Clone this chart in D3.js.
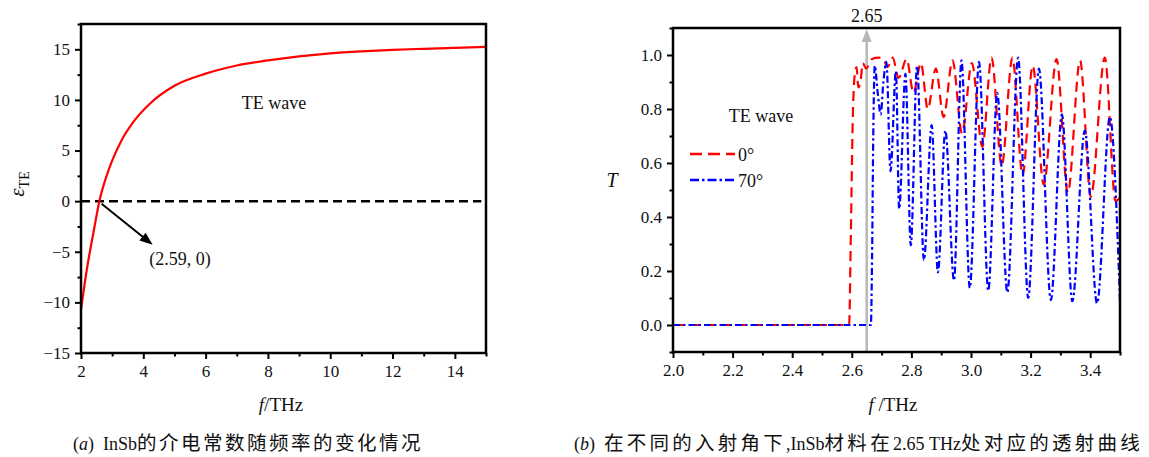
<!DOCTYPE html>
<html>
<head>
<meta charset="utf-8">
<script src="https://cdn.jsdelivr.net/npm/d3@7"></script>
<style>
  body { margin: 0; background: #fff; }
  svg text { font-family: "Liberation Serif", "Times New Roman", serif; fill: #111; }
  svg text.cap { font-family: "Liberation Serif", "Noto Sans CJK SC", serif; }
  svg tspan.cjk { font-family: "Noto Sans CJK SC", sans-serif; font-size: 19.5px; }
</style>
</head>
<body>
<div id="wrapper"></div>
<script>
// ---- panel (a): permittivity of InSb ----
const epsFreq = [2, 2.2, 2.4, 2.59, 2.8, 3.0, 3.3, 3.7, 4.2, 5, 6, 7, 8, 9, 10, 11, 12, 13, 14, 15];
const epsValue = [-10.7, -6.5, -3.1, 0, 2.3, 4.0, 6.0, 7.9, 9.6, 11.4, 12.6, 13.4, 13.9, 14.3, 14.6, 14.8, 14.95, 15.05, 15.15, 15.25];
const aXTicks = [2, 4, 6, 8, 10, 12, 14];
const aXMinor = [3, 5, 7, 9, 11, 13, 15];
const aYTicks = [-15, -10, -5, 0, 5, 10, 15];
const aYMinor = [-12.5, -7.5, -2.5, 2.5, 7.5, 12.5, 17.5];

// ---- panel (b): transmission, 0 deg and 70 deg ----
const t0Freq = [2.0, 2.591, 2.597, 2.603, 2.610, 2.616, 2.622, 2.629, 2.637, 2.648, 2.668, 2.690, 2.706, 2.720, 2.737, 2.757, 2.784, 2.807, 2.832, 2.855, 2.882, 2.908, 2.938, 2.970, 3.003, 3.038, 3.069, 3.103, 3.139, 3.173, 3.207, 3.244, 3.287, 3.325, 3.366, 3.402, 3.449, 3.485, 3.5];
const t0Value = [0, 0, 0.35, 0.75, 0.93, 0.955, 0.88, 0.90, 0.97, 0.95, 0.985, 0.99, 0.985, 0.955, 0.99, 0.915, 0.985, 0.86, 0.97, 0.80, 0.95, 0.77, 0.98, 0.71, 0.97, 0.66, 0.99, 0.59, 0.99, 0.555, 0.96, 0.52, 0.985, 0.49, 0.98, 0.475, 0.99, 0.46, 0.47];
const t70Freq = [2.0, 2.664, 2.668, 2.672, 2.677, 2.687, 2.697, 2.706, 2.716, 2.730, 2.748, 2.759, 2.780, 2.798, 2.819, 2.842, 2.868, 2.889, 2.914, 2.943, 2.968, 2.996, 3.027, 3.058, 3.088, 3.122, 3.158, 3.192, 3.228, 3.268, 3.305, 3.340, 3.382, 3.423, 3.466, 3.5];
const t70Value = [0, 0, 0.25, 0.7, 0.96, 0.86, 0.78, 0.9, 0.975, 0.57, 0.94, 0.43, 0.93, 0.295, 0.96, 0.24, 0.74, 0.195, 0.72, 0.165, 0.98, 0.137, 0.975, 0.127, 0.86, 0.12, 0.99, 0.10, 0.95, 0.092, 0.78, 0.088, 0.72, 0.08, 0.77, 0.085];
const bXTicks = [2.0, 2.2, 2.4, 2.6, 2.8, 3.0, 3.2, 3.4];
const bXMinor = [2.1, 2.3, 2.5, 2.7, 2.9, 3.1, 3.3, 3.5];
const bYTicks = [0, 0.2, 0.4, 0.6, 0.8, 1.0];
const bYMinor = [-0.1, 0.1, 0.3, 0.5, 0.7, 0.9, 1.1];
const markFreq = 2.65;
const zeroCross = [2.59, 0];

const serif = '"Liberation Serif", "Times New Roman", serif';

const svg = d3.select("#wrapper").append("svg")
    .attr("width", 1149)
    .attr("height", 457);

function drawFrame(x, y, xTicks, xMinor, yTicks, yMinor, xFmt, yFmt) {
    const g = svg.append("g");
    const [x0, x1] = x.range();
    const [y0, y1] = y.range();

    g.append("g")
        .attr("transform", `translate(0,${y0})`)
        .call(d3.axisBottom(x).tickValues(xTicks).tickSize(6).tickPadding(6).tickFormat(xFmt));
    g.append("g")
        .attr("transform", `translate(0,${y0})`)
        .call(d3.axisBottom(x).tickValues(xMinor).tickSize(3.5).tickFormat(""));
    g.append("g")
        .attr("transform", `translate(${x0},0)`)
        .call(d3.axisLeft(y).tickValues(yTicks).tickSize(6).tickPadding(5).tickFormat(yFmt));
    g.append("g")
        .attr("transform", `translate(${x0},0)`)
        .call(d3.axisLeft(y).tickValues(yMinor).tickSize(3.5).tickFormat(""));

    g.selectAll("g").attr("font-family", serif);
    g.selectAll(".domain").remove();
    g.selectAll(".tick line").attr("stroke", "#000").attr("stroke-width", 2);
    g.selectAll(".tick text")
        .style("font-family", serif)
        .style("font-size", "17px")
        .attr("fill", "#111");

    g.append("rect")
        .attr("x", x0).attr("y", y1)
        .attr("width", x1 - x0).attr("height", y0 - y1)
        .attr("fill", "none")
        .attr("stroke", "#000")
        .attr("stroke-width", 2.5);
    return g;
}

// caption: latin parts in serif, CJK runs spaced out to the measured width
function caption(x, width, letter, rest) {
    const t = svg.append("text")
        .attr("class", "cap")
        .attr("x", x).attr("y", 450)
        .style("font-size", "18px");
    t.append("tspan").text("(");
    t.append("tspan").style("font-style", "italic").text(letter);
    t.append("tspan").text(")\u2002");
    const parts = rest.split(/([\u4e00-\u9fff]+)/).filter(s => s.length);
    parts.forEach(s => {
        const sp = t.append("tspan").text(s);
        if (/[\u4e00-\u9fff]/.test(s)) sp.classed("cjk", true);
    });
    const natural = t.node().getComputedTextLength();
    const cjkCount = t.selectAll(".cjk").nodes().reduce((a, n) => a + n.textContent.length, 0);
    const extra = Math.max(0, (width - natural) / cjkCount);
    t.selectAll(".cjk").style("letter-spacing", extra + "px");
    return t;
}

const minus = d => d3.format("d")(d).replace("-", "\u2212");

// ================= panel (a) =================
const xA = d3.scaleLinear().domain([2, 15]).range([81, 486]);
const yA = d3.scaleLinear().domain([-15, 17.5]).range([353, 24]);

const plotA = svg.append("g");
plotA.append("line")
    .attr("x1", xA(2)).attr("x2", xA(14.85))
    .attr("y1", yA(0)).attr("y2", yA(0))
    .attr("stroke", "#000")
    .attr("stroke-width", 2.5)
    .attr("stroke-dasharray", "9,5");

const epsLine = d3.line()
    .x((d, i) => xA(epsFreq[i]))
    .y(d => yA(d))
    .curve(d3.curveMonotoneX);
plotA.append("path")
    .attr("d", epsLine(epsValue))
    .attr("fill", "none")
    .attr("stroke", "#ff0000")
    .attr("stroke-width", 2.2);

drawFrame(xA, yA, aXTicks, aXMinor, aYTicks, aYMinor, d3.format("d"), minus);

// annotation arrow to the zero crossing
const arrStart = [xA(zeroCross[0] + 0.07), yA(-0.25)];
const arrEnd = [xA(4.3), yA(-4.3)];
const ang = Math.atan2(arrEnd[1] - arrStart[1], arrEnd[0] - arrStart[0]);
const headL = 13, headW = 5;
plotA.append("line")
    .attr("x1", arrStart[0]).attr("y1", arrStart[1])
    .attr("x2", arrEnd[0] - Math.cos(ang) * headL * 0.8)
    .attr("y2", arrEnd[1] - Math.sin(ang) * headL * 0.8)
    .attr("stroke", "#000").attr("stroke-width", 2);
plotA.append("path")
    .attr("d", d3.line()([
        arrEnd,
        [arrEnd[0] - Math.cos(ang) * headL - Math.sin(ang) * headW, arrEnd[1] - Math.sin(ang) * headL + Math.cos(ang) * headW],
        [arrEnd[0] - Math.cos(ang) * headL + Math.sin(ang) * headW, arrEnd[1] - Math.sin(ang) * headL - Math.cos(ang) * headW]
    ]) + "Z")
    .attr("fill", "#000");

svg.append("text")
    .attr("x", 180).attr("y", 265)
    .attr("text-anchor", "middle")
    .style("font-size", "18px")
    .text(`(${zeroCross[0]}, ${zeroCross[1]})`);

svg.append("text")
    .attr("x", 274).attr("y", 109)
    .attr("text-anchor", "middle")
    .style("font-size", "18px")
    .text("TE wave");

const yLabA = svg.append("text")
    .attr("transform", "translate(24,184) rotate(-90)")
    .attr("text-anchor", "middle")
    .style("font-size", "21px");
yLabA.append("tspan").style("font-style", "italic").text("ε");
yLabA.append("tspan").attr("dy", 5).style("font-size", "14px").text("TE");

const xLabA = svg.append("text")
    .attr("x", 281).attr("y", 411)
    .attr("text-anchor", "middle")
    .style("font-size", "19px");
xLabA.append("tspan").style("font-style", "italic").text("f");
xLabA.append("tspan").text("/THz");

caption(73, 350, "a", "InSb的介电常数随频率的变化情况");

// ================= panel (b) =================
const xB = d3.scaleLinear().domain([2, 3.5]).range([673, 1120]);
const yB = d3.scaleLinear().domain([-0.1, 1.1]).range([352, 28]);

svg.append("clipPath").attr("id", "clipB")
    .append("rect")
    .attr("x", xB(2)).attr("y", yB(1.1))
    .attr("width", xB(3.5) - xB(2)).attr("height", yB(-0.1) - yB(1.1));

const plotB = svg.append("g").attr("clip-path", "url(#clipB)");

// marker line at 2.65 THz
const grayTop = yB(1.1) + 1;
plotB.append("line")
    .attr("x1", xB(markFreq)).attr("x2", xB(markFreq))
    .attr("y1", yB(-0.1)).attr("y2", grayTop + 10)
    .attr("stroke", "#b8b8b8").attr("stroke-width", 2.5);
plotB.append("path")
    .attr("d", d3.line()([
        [xB(markFreq), grayTop],
        [xB(markFreq) - 5, grayTop + 13],
        [xB(markFreq) + 5, grayTop + 13]
    ]) + "Z")
    .attr("fill", "#b8b8b8");

const tLine = fr => d3.line()
    .x((d, i) => xB(fr[i]))
    .y(d => yB(d))
    .curve(d3.curveMonotoneX);

plotB.append("path")
    .attr("d", tLine(t0Freq)(t0Value))
    .attr("fill", "none")
    .attr("stroke", "#ff0000")
    .attr("stroke-width", 2.2)
    .attr("stroke-dasharray", "10,6");

plotB.append("path")
    .attr("d", tLine(t70Freq)(t70Value))
    .attr("fill", "none")
    .attr("stroke", "#0000ff")
    .attr("stroke-width", 2.2)
    .attr("stroke-dasharray", "7,3,2.5,3");

drawFrame(xB, yB, bXTicks, bXMinor, bYTicks, bYMinor, d3.format(".1f"), d3.format(".1f"));

svg.append("text")
    .attr("x", xB(markFreq)).attr("y", 22)
    .attr("text-anchor", "middle")
    .style("font-size", "18px")
    .text(markFreq.toFixed(2));

// legend
svg.append("text")
    .attr("x", 761).attr("y", 122)
    .attr("text-anchor", "middle")
    .style("font-size", "18px")
    .text("TE wave");

const legend = [
    { label: "0°", color: "#ff0000", dash: "12,6", y: 154 },
    { label: "70°", color: "#0000ff", dash: "9,3,2.5,3", y: 180 }
];
const leg = svg.append("g").selectAll("g").data(legend).join("g");
leg.append("line")
    .attr("x1", 690).attr("x2", 735)
    .attr("y1", d => d.y).attr("y2", d => d.y)
    .attr("stroke", d => d.color)
    .attr("stroke-width", 2.5)
    .attr("stroke-dasharray", d => d.dash);
leg.append("text")
    .attr("x", 738).attr("y", d => d.y + 7)
    .style("font-size", "18px")
    .text(d => d.label);

svg.append("text")
    .attr("x", 612).attr("y", 187)
    .attr("text-anchor", "middle")
    .style("font-size", "20px")
    .style("font-style", "italic")
    .text("T");

const xLabB = svg.append("text")
    .attr("x", 893).attr("y", 411)
    .attr("text-anchor", "middle")
    .style("font-size", "19px");
xLabB.append("tspan").style("font-style", "italic").text("f");
xLabB.append("tspan").text(" /THz");

caption(574, 569, "b", "在不同的入射角下,InSb材料在2.65 THz处对应的透射曲线");
</script>
</body>
</html>
